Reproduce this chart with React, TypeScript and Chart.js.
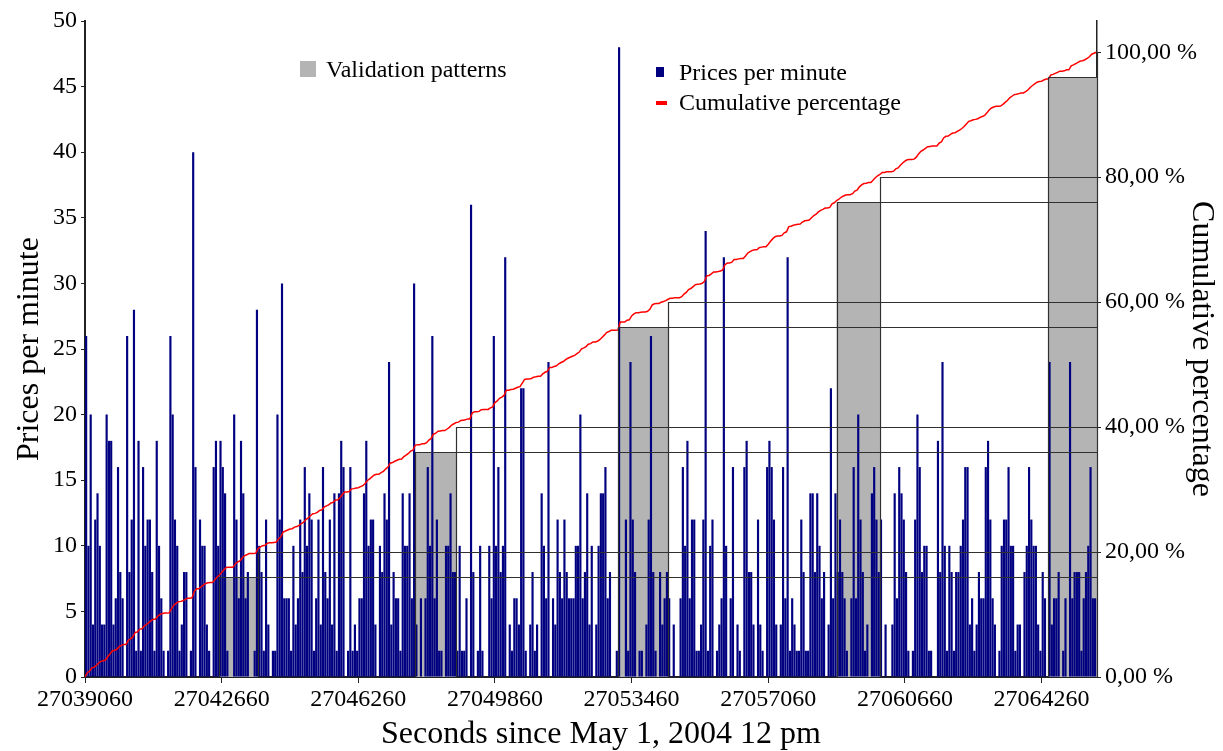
import React, { useEffect, useRef } from 'react';
import { Chart, registerables } from 'chart.js';

Chart.register(...registerables);

// ---------- data ----------
const START_SECOND = 27039060;
const MINUTE = 60;
const X_MAX = 27065720;

const pricesPerMinute: number[] = [
  26, 10, 20, 4, 12, 14, 10, 4, 4, 20,
  18, 18, 4, 6, 16, 8, 6, 0, 26, 8,
  12, 28, 2, 18, 2, 16, 10, 12, 12, 8,
  2, 18, 10, 6, 2, 0, 2, 26, 20, 12,
  10, 2, 4, 8, 8, 0, 2, 40, 16, 0,
  12, 10, 10, 4, 2, 0, 16, 18, 10, 18,
  16, 14, 2, 0, 0, 20, 12, 6, 18, 14,
  6, 8, 0, 0, 2, 28, 10, 8, 2, 12,
  4, 0, 2, 2, 20, 12, 30, 6, 6, 6,
  2, 10, 4, 6, 12, 8, 16, 10, 14, 12,
  2, 6, 12, 4, 16, 8, 6, 12, 4, 14,
  2, 14, 18, 16, 0, 2, 16, 2, 4, 2,
  6, 6, 14, 18, 10, 12, 12, 4, 0, 10,
  8, 14, 12, 24, 4, 8, 6, 6, 2, 14,
  10, 10, 14, 6, 30, 4, 0, 6, 0, 6,
  16, 10, 26, 6, 12, 2, 2, 0, 10, 10,
  14, 8, 8, 2, 10, 2, 2, 6, 0, 36,
  8, 0, 2, 10, 2, 0, 0, 10, 6, 26,
  10, 16, 8, 10, 32, 0, 4, 2, 6, 6,
  4, 22, 22, 2, 0, 4, 8, 2, 4, 0,
  14, 10, 6, 24, 0, 6, 4, 12, 8, 6,
  12, 8, 6, 6, 6, 10, 10, 20, 6, 8,
  14, 4, 10, 0, 4, 10, 14, 14, 16, 6,
  8, 0, 0, 2, 48, 0, 0, 12, 2, 24,
  12, 8, 0, 2, 2, 0, 4, 12, 26, 8,
  2, 0, 8, 4, 6, 8, 6, 0, 4, 0,
  0, 6, 16, 10, 18, 6, 12, 12, 2, 2,
  4, 12, 34, 2, 10, 12, 0, 2, 4, 6,
  32, 10, 0, 6, 16, 0, 4, 2, 0, 16,
  18, 8, 8, 4, 0, 12, 4, 2, 0, 16,
  18, 16, 12, 4, 0, 4, 16, 6, 32, 2,
  6, 4, 2, 2, 12, 8, 2, 2, 14, 14,
  8, 14, 10, 6, 8, 0, 4, 22, 6, 14,
  8, 12, 8, 6, 2, 0, 6, 16, 6, 20,
  12, 8, 2, 4, 0, 14, 16, 12, 8, 12,
  0, 4, 0, 0, 4, 14, 6, 16, 14, 12,
  8, 2, 0, 2, 12, 20, 16, 8, 10, 10,
  2, 2, 0, 0, 18, 8, 24, 10, 2, 10,
  8, 2, 8, 8, 10, 12, 16, 16, 4, 6,
  2, 4, 8, 6, 6, 16, 18, 12, 6, 4,
  0, 2, 10, 12, 12, 16, 10, 10, 2, 4,
  4, 0, 8, 10, 16, 12, 10, 10, 4, 2,
  8, 6, 0, 24, 4, 6, 6, 8, 0, 2,
  6, 0, 24, 6, 8, 8, 8, 2, 6, 8,
  10, 16, 6, 6,
];

const xTickValues = [27039060, 27042660, 27046260, 27049860, 27053460, 27057060, 27060660, 27064260];
const pctTickValues = [0, 20, 40, 60, 80, 100];

const patternStart = [27042600, 27047760, 27053100, 27058860, 27064440];
const patternEnd = [27043620, 27048840, 27054420, 27060000, 27065720];
const patternLowPct = [16, 36, 56, 76, 96];
const patternHighPct = [20, 40, 60, 80, 100];

const X_TITLE = 'Seconds since May 1, 2004 12 pm';
const FONT = "'Liberation Serif', 'Times New Roman', serif";

export default function App() {
  const ref = useRef<HTMLCanvasElement | null>(null);

  useEffect(() => {
    const canvas = ref.current;
    if (!canvas) return;

    const barPoints = pricesPerMinute.map((v, i) => ({ x: START_SECOND + i * MINUTE + MINUTE / 2, y: v }));
    const total = pricesPerMinute.reduce((a, b) => a + b, 0);
    let run = 0;
    const cumPoints = [{ x: START_SECOND, y: 0 }].concat(
      pricesPerMinute.map((v, i) => {
        run += v;
        return { x: START_SECOND + (i + 1) * MINUTE, y: (run / total) * 100 };
      })
    );

    const patternPlugin = {
      id: 'patterns',
      beforeDatasetsDraw(chart: any) {
        const { ctx, scales } = chart;
        const x = scales.x, y2 = scales.y2;
        ctx.save();
        ctx.fillStyle = '#b4b4b4';
        for (let i = 0; i < patternStart.length; i++) {
          const x0 = x.getPixelForValue(patternStart[i]);
          const x1 = x.getPixelForValue(patternEnd[i]);
          const yt = y2.getPixelForValue(patternLowPct[i]);
          const yb = y2.getPixelForValue(0);
          ctx.fillRect(x0, yt, x1 - x0, yb - yt);
        }
        ctx.restore();
      },
      afterDatasetsDraw(chart: any) {
        const { ctx, scales, chartArea } = chart;
        const x = scales.x, y2 = scales.y2;
        ctx.save();
        ctx.strokeStyle = '#303030';
        ctx.lineWidth = 1.2;
        const r = (v: number) => Math.round(v) + 0.5;
        for (let i = 0; i < patternStart.length; i++) {
          const x0 = r(x.getPixelForValue(patternStart[i]));
          const x1 = r(x.getPixelForValue(patternEnd[i]));
          const yl = r(y2.getPixelForValue(patternLowPct[i]));
          const yh = r(y2.getPixelForValue(patternHighPct[i]));
          const yb = y2.getPixelForValue(0);
          ctx.beginPath();
          ctx.moveTo(x0, yb); ctx.lineTo(x0, yl); ctx.lineTo(chartArea.right, yl);
          ctx.moveTo(x1, yb); ctx.lineTo(x1, yh); ctx.lineTo(chartArea.right, yh);
          ctx.stroke();
        }
        ctx.restore();
      },
      afterDraw(chart: any) {
        const { ctx } = chart;
        ctx.save();
        ctx.textBaseline = 'alphabetic';
        ctx.textAlign = 'left';
        ctx.font = `24px ${FONT}`;
        ctx.fillStyle = '#b4b4b4';
        ctx.fillRect(300, 61, 16, 16);
        ctx.fillStyle = '#000';
        ctx.fillText('Validation patterns', 326, 77);
        ctx.fillStyle = '#000080';
        ctx.fillRect(656, 67, 8, 10);
        ctx.fillStyle = '#000';
        ctx.fillText('Prices per minute', 679, 80);
        ctx.fillStyle = '#ff0000';
        ctx.fillRect(656, 101, 11, 4);
        ctx.fillStyle = '#000';
        ctx.fillText('Cumulative percentage', 679, 110);
        // x-axis title
        ctx.font = `32px ${FONT}`;
        ctx.textAlign = 'center';
        ctx.fillText(X_TITLE, 601, 743);
        ctx.restore();
      },
    };

    const tickFont = { family: FONT, size: 24 };
    const titleFont = { family: FONT, size: 32 };

    const chart = new Chart(canvas, {
      type: 'bar',
      data: {
        datasets: [
          {
            type: 'line',
            label: 'Cumulative percentage',
            data: cumPoints,
            yAxisID: 'y2',
            xAxisID: 'x',
            borderColor: '#ff0000',
            borderWidth: 1.5,
            pointRadius: 0,
            tension: 0,
            order: 0,
          } as any,
          {
            type: 'bar',
            label: 'Prices per minute',
            data: barPoints,
            yAxisID: 'y',
            xAxisID: 'x',
            backgroundColor: '#000080',
            borderWidth: 0,
            barPercentage: 0.95,
            categoryPercentage: 1,
            order: 1,
          } as any,
        ],
      },
      options: {
        responsive: false,
        animation: false,
        events: [],
        layout: { padding: { top: 21, left: 0, right: 0, bottom: 0 } },
        plugins: { legend: { display: false }, tooltip: { enabled: false } },
        scales: {
          x: {
            type: 'linear',
            position: 'bottom',
            min: START_SECOND,
            max: X_MAX,
            offset: false,
            afterBuildTicks: (s: any) => { s.ticks = xTickValues.map((v) => ({ value: v })); },
            afterFit: (s: any) => { s.height = 74; },
            ticks: {
              callback: (v: any) => String(v),
              font: tickFont,
              color: '#000',
              maxRotation: 0,
              autoSkip: false,
              padding: 2,
            },
            grid: { drawOnChartArea: false, tickLength: 6, color: '#222', offset: false },
            border: { color: '#222', width: 2 },
            title: { display: false },
          },
          y: {
            type: 'linear',
            position: 'left',
            min: 0,
            max: 50,
            ticks: { stepSize: 5, font: tickFont, color: '#000', padding: 4 },
            afterFit: (s: any) => { s.width = 85; },
            grid: { drawOnChartArea: false, tickLength: 4, color: '#222' },
            border: { color: '#222', width: 2 },
            title: { display: true, text: 'Prices per minute', font: titleFont, color: '#000', padding: { top: 10, bottom: 0 } },
          },
          y2: {
            type: 'linear',
            position: 'right',
            min: 0,
            max: 105,
            afterBuildTicks: (s: any) => { s.ticks = pctTickValues.map((v) => ({ value: v })); },
            afterFit: (s: any) => { s.width = 126; },
            ticks: {
              font: tickFont,
              color: '#000',
              padding: 4,
              callback: (v: any) => Number(v).toFixed(2).replace('.', ',') + ' %',
            },
            grid: { drawOnChartArea: false, tickLength: 4, color: '#222' },
            border: { color: '#222', width: 1.5 },
            title: { display: true, text: 'Cumulative percentage', font: titleFont, color: '#000', padding: { top: 2, bottom: 0 } },
          },
        },
      } as any,
      plugins: [patternPlugin],
    });

    return () => chart.destroy();
  }, []);

  return (
    <div style={{ position: 'fixed', left: 0, top: 0, width: 1223, height: 751, background: '#fff' }}>
      <canvas ref={ref} width={1223} height={751} style={{ width: 1223, height: 751, display: 'block' }} />
    </div>
  );
}
